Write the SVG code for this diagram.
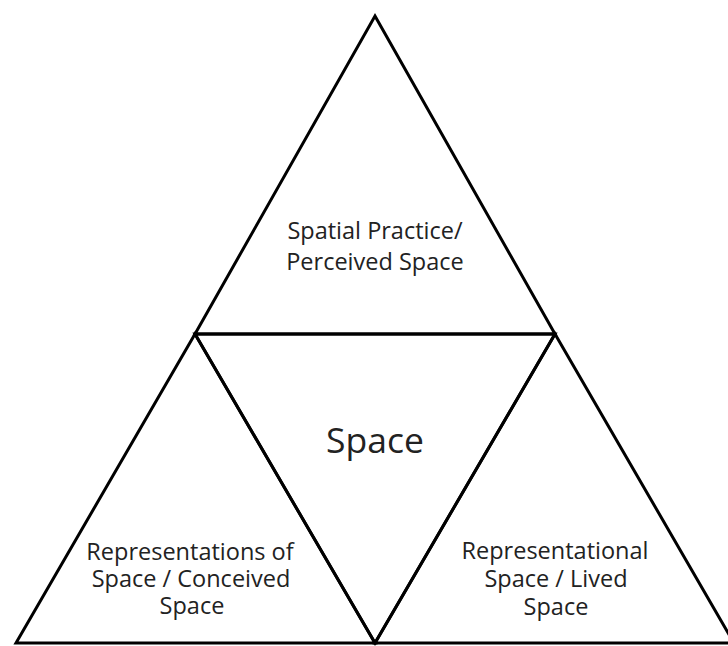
<svg xmlns="http://www.w3.org/2000/svg" width="728" height="646" viewBox="0 0 728 646">
<style>
.tri{fill:none;stroke:#000;stroke-width:3;stroke-linejoin:miter}
.lbl{font-family:"Open Sans","Noto Sans",sans-serif;font-size:23.5px;fill:#222;text-anchor:middle}
.big{font-family:"Open Sans","Noto Sans",sans-serif;font-size:35.5px;fill:#222;text-anchor:middle}
</style>
<rect width="728" height="646" fill="#fff"/>
<g id="top">
<polygon class="tri" points="375,16 555,334 195,334"/>
<text class="lbl" x="375" y="239">Spatial Practice/</text>
<text class="lbl" x="375" y="270">Perceived Space</text>
</g>
<g id="left">
<polygon class="tri" points="195,334 375,643 16,643"/>
<text class="lbl" x="190" y="560">Representations of</text>
<text class="lbl" x="191" y="587">Space / Conceived</text>
<text class="lbl" x="192" y="614">Space</text>
</g>
<g id="right">
<polygon class="tri" points="555,334 734,643 375,643"/>
<text class="lbl" x="555" y="559">Representational</text>
<text class="lbl" x="556" y="587">Space / Lived</text>
<text class="lbl" x="556" y="615">Space</text>
</g>
<g id="center">
<polygon class="tri" points="195,334 555,334 375,643"/>
<text class="big" x="375" y="453">Space</text>
</g>
<g id="connectors"></g>
</svg>
